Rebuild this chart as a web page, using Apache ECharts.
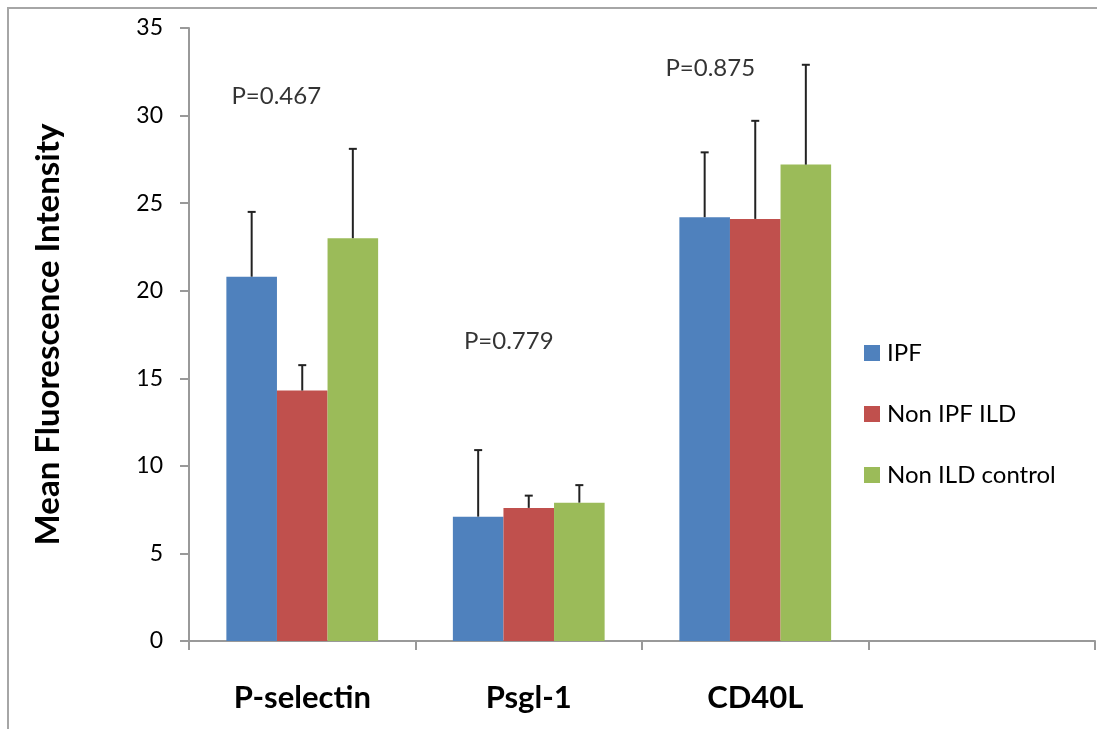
<!DOCTYPE html>
<html>
<head>
<meta charset="utf-8">
<script src="https://cdn.jsdelivr.net/npm/echarts@6/dist/echarts.min.js"></script>
<style>
  html, body { margin: 0; padding: 0; background: #fff; }
  #chart { width: 1097px; height: 729px; }
</style>
</head>
<body>
<div id="chart"></div>
<script>
// Markers and groups
const categories = ['P-selectin', 'Psgl-1', 'CD40L', ''];
const seriesNames = ['IPF', 'Non IPF ILD', 'Non ILD control'];

// Mean fluorescence intensity per group
const ipfMean = [20.8, 7.1, 24.2];
const nonIpfIldMean = [14.3, 7.6, 24.1];
const nonIldControlMean = [23.0, 7.9, 27.2];

// Upper error (SD) per group
const ipfErr = [3.7, 3.8, 3.7];
const nonIpfIldErr = [1.45, 0.7, 5.6];
const nonIldControlErr = [5.1, 1.0, 5.7];

// P-value annotations and the height they sit at
const pLabels = ['P=0.467', 'P=0.779', 'P=0.875'];
const pLabelY = [31.1, 17.1, 32.7];

const yTicks = [0, 5, 10, 15, 20, 25, 30, 35];

const colors = ['#4f81bd', '#c0504d', '#9bbb59'];
const FONT = 'Lato, "Open Sans", sans-serif';
const CAT_GAP = 0.33;

const means = [ipfMean, nonIpfIldMean, nonIldControlMean];
const errs = [ipfErr, nonIpfIldErr, nonIldControlErr];

const chart = echarts.init(document.getElementById('chart'));

function errorSeries(idx) {
  const data = means[idx].map((m, i) => [i, m, m + errs[idx][i]]);
  return {
    type: 'custom',
    name: seriesNames[idx] + ' error',
    z: 5,
    silent: true,
    data: data,
    renderItem: function (params, api) {
      const band = api.size([1, 0])[0];
      const barW = band * (1 - CAT_GAP) / 3;
      const shift = (idx - 1) * barW;
      const base = api.coord([api.value(0), api.value(1)]);
      const top = api.coord([api.value(0), api.value(2)]);
      const x = base[0] + shift;
      const cap = 4;
      const style = { stroke: '#222', lineWidth: 2 };
      return {
        type: 'group',
        children: [
          { type: 'line', shape: { x1: x, y1: base[1], x2: x, y2: top[1] }, style: style },
          { type: 'line', shape: { x1: x - cap, y1: top[1], x2: x + cap, y2: top[1] }, style: style }
        ]
      };
    }
  };
}

const barSeries = seriesNames.map((name, idx) => ({
  type: 'bar',
  name: name,
  data: means[idx],
  barGap: '0%',
  barCategoryGap: (CAT_GAP * 100) + '%',
  itemStyle: { color: colors[idx] },
  z: 2
}));

const pOffsets = [[-26, 0], [-20, 0], [-45, 0]];

const option = {
  animation: false,
  backgroundColor: '#fff',
  textStyle: { fontFamily: FONT },
  grid: { left: 189, right: 2, top: 28, bottom: 88, containLabel: false },
  legend: {
    orient: 'vertical',
    left: 859,
    top: 336,
    itemWidth: 16,
    itemHeight: 16,
    itemGap: 37,
    icon: 'rect',
    data: seriesNames,
    textStyle: { fontFamily: FONT, fontSize: 24, color: '#000', padding: [0, 0, 0, 2] }
  },
  xAxis: {
    type: 'category',
    data: categories,
    axisLine: { lineStyle: { color: '#999', width: 2 } },
    axisTick: { show: true, length: 9, lineStyle: { color: '#999', width: 2 } },
    axisLabel: { fontFamily: FONT, fontSize: 31, fontWeight: 'bold', color: '#000', margin: 41 },
    splitLine: { show: false }
  },
  yAxis: {
    type: 'value',
    min: yTicks[0],
    max: yTicks[yTicks.length - 1],
    interval: 5,
    name: 'Mean Fluorescence Intensity',
    nameLocation: 'middle',
    nameGap: 124,
    nameTextStyle: { fontFamily: FONT, fontSize: 33, fontWeight: 'bold', color: '#000' },
    axisLine: { show: true, lineStyle: { color: '#999', width: 2 } },
    axisTick: { show: true, length: 9, lineStyle: { color: '#999', width: 2 } },
    axisLabel: {
      margin: 26,
      formatter: '{t|{value}}',
      rich: { t: { fontFamily: FONT, fontSize: 23, color: '#000' } }
    },
    splitLine: { show: false }
  },
  graphic: [
    {
      type: 'rect',
      shape: { x: 8, y: 8, width: 1200, height: 800 },
      style: { fill: 'none', stroke: '#a6a6a6', lineWidth: 2 },
      silent: true,
      z: -1
    }
  ],
  series: [
    ...barSeries,
    errorSeries(0),
    errorSeries(1),
    errorSeries(2),
    {
      type: 'scatter',
      name: 'p-values',
      symbolSize: 0,
      silent: true,
      z: 6,
      data: pLabels.map((t, i) => ({
        value: [i, pLabelY[i]],
        label: {
          show: true,
          formatter: t,
          position: 'inside',
          offset: pOffsets[i],
          fontFamily: FONT,
          fontSize: 24,
          color: '#000'
        }
      }))
    }
  ]
};

chart.setOption(option);
</script>
</body>
</html>
